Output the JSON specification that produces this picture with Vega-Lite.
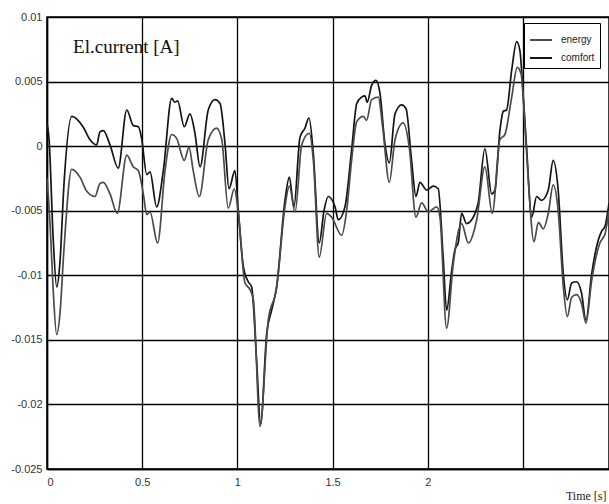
{
  "$schema": "https://vega.github.io/schema/vega-lite/v6.json",
  "width": 562,
  "height": 452,
  "autosize": {"type": "none"},
  "padding": {"left": 47, "top": 17, "right": 0, "bottom": 35},
  "background": "white",
  "config": {
    "view": {"stroke": "black", "strokeWidth": 1.5},
    "axis": {
      "labelFont": "Liberation Sans",
      "labelFontSize": 11,
      "labelColor": "#333333",
      "gridColor": "black",
      "gridOpacity": 1,
      "gridWidth": 1.3,
      "ticks": false,
      "domainColor": "black",
      "domainWidth": 1.5
    }
  },
  "datasets": {
    "curves": [
      {"t": 0.000, "v": 0.0018, "series": "comfort"},
      {"t": 0.011, "v": 0.0005, "series": "comfort"},
      {"t": 0.032, "v": -0.0070, "series": "comfort"},
      {"t": 0.051, "v": -0.0109, "series": "comfort"},
      {"t": 0.068, "v": -0.0090, "series": "comfort"},
      {"t": 0.089, "v": -0.0030, "series": "comfort"},
      {"t": 0.130, "v": 0.0023, "series": "comfort"},
      {"t": 0.189, "v": 0.0015, "series": "comfort"},
      {"t": 0.226, "v": 0.0005, "series": "comfort"},
      {"t": 0.261, "v": 0.0001, "series": "comfort"},
      {"t": 0.278, "v": 0.0011, "series": "comfort"},
      {"t": 0.296, "v": 0.0012, "series": "comfort"},
      {"t": 0.331, "v": 0.0001, "series": "comfort"},
      {"t": 0.374, "v": -0.0017, "series": "comfort"},
      {"t": 0.419, "v": 0.0028, "series": "comfort"},
      {"t": 0.453, "v": 0.0016, "series": "comfort"},
      {"t": 0.480, "v": 0.0015, "series": "comfort"},
      {"t": 0.497, "v": 0.0006, "series": "comfort"},
      {"t": 0.524, "v": -0.0022, "series": "comfort"},
      {"t": 0.541, "v": -0.0020, "series": "comfort"},
      {"t": 0.576, "v": -0.0047, "series": "comfort"},
      {"t": 0.611, "v": -0.0019, "series": "comfort"},
      {"t": 0.655, "v": 0.0037, "series": "comfort"},
      {"t": 0.672, "v": 0.0034, "series": "comfort"},
      {"t": 0.686, "v": 0.0035, "series": "comfort"},
      {"t": 0.721, "v": 0.0015, "series": "comfort"},
      {"t": 0.751, "v": 0.0025, "series": "comfort"},
      {"t": 0.777, "v": 0.0010, "series": "comfort"},
      {"t": 0.804, "v": -0.0016, "series": "comfort"},
      {"t": 0.847, "v": 0.0028, "series": "comfort"},
      {"t": 0.882, "v": 0.0036, "series": "comfort"},
      {"t": 0.909, "v": 0.0033, "series": "comfort"},
      {"t": 0.935, "v": 0.0002, "series": "comfort"},
      {"t": 0.956, "v": -0.0033, "series": "comfort"},
      {"t": 0.987, "v": -0.0019, "series": "comfort"},
      {"t": 1.005, "v": -0.0050, "series": "comfort"},
      {"t": 1.031, "v": -0.0093, "series": "comfort"},
      {"t": 1.057, "v": -0.0105, "series": "comfort"},
      {"t": 1.075, "v": -0.0109, "series": "comfort"},
      {"t": 1.101, "v": -0.0166, "series": "comfort"},
      {"t": 1.122, "v": -0.0215, "series": "comfort"},
      {"t": 1.154, "v": -0.0145, "series": "comfort"},
      {"t": 1.180, "v": -0.0127, "series": "comfort"},
      {"t": 1.206, "v": -0.0109, "series": "comfort"},
      {"t": 1.250, "v": -0.0042, "series": "comfort"},
      {"t": 1.273, "v": -0.0024, "series": "comfort"},
      {"t": 1.297, "v": -0.0047, "series": "comfort"},
      {"t": 1.329, "v": 0.0007, "series": "comfort"},
      {"t": 1.355, "v": 0.0014, "series": "comfort"},
      {"t": 1.376, "v": 0.0022, "series": "comfort"},
      {"t": 1.399, "v": -0.0006, "series": "comfort"},
      {"t": 1.430, "v": -0.0075, "series": "comfort"},
      {"t": 1.455, "v": -0.0050, "series": "comfort"},
      {"t": 1.477, "v": -0.0039, "series": "comfort"},
      {"t": 1.513, "v": -0.0047, "series": "comfort"},
      {"t": 1.530, "v": -0.0057, "series": "comfort"},
      {"t": 1.565, "v": -0.0047, "series": "comfort"},
      {"t": 1.600, "v": -0.0003, "series": "comfort"},
      {"t": 1.627, "v": 0.0033, "series": "comfort"},
      {"t": 1.653, "v": 0.0038, "series": "comfort"},
      {"t": 1.670, "v": 0.0039, "series": "comfort"},
      {"t": 1.682, "v": 0.0034, "series": "comfort"},
      {"t": 1.705, "v": 0.0047, "series": "comfort"},
      {"t": 1.728, "v": 0.0051, "series": "comfort"},
      {"t": 1.749, "v": 0.0041, "series": "comfort"},
      {"t": 1.775, "v": 0.0002, "series": "comfort"},
      {"t": 1.798, "v": -0.0013, "series": "comfort"},
      {"t": 1.828, "v": 0.0025, "series": "comfort"},
      {"t": 1.863, "v": 0.0032, "series": "comfort"},
      {"t": 1.886, "v": 0.0029, "series": "comfort"},
      {"t": 1.915, "v": -0.0011, "series": "comfort"},
      {"t": 1.938, "v": -0.0039, "series": "comfort"},
      {"t": 1.959, "v": -0.0028, "series": "comfort"},
      {"t": 1.994, "v": -0.0034, "series": "comfort"},
      {"t": 2.029, "v": -0.0031, "series": "comfort"},
      {"t": 2.055, "v": -0.0033, "series": "comfort"},
      {"t": 2.081, "v": -0.0086, "series": "comfort"},
      {"t": 2.099, "v": -0.0127, "series": "comfort"},
      {"t": 2.126, "v": -0.0096, "series": "comfort"},
      {"t": 2.143, "v": -0.0080, "series": "comfort"},
      {"t": 2.160, "v": -0.0075, "series": "comfort"},
      {"t": 2.178, "v": -0.0052, "series": "comfort"},
      {"t": 2.204, "v": -0.0060, "series": "comfort"},
      {"t": 2.239, "v": -0.0055, "series": "comfort"},
      {"t": 2.265, "v": -0.0044, "series": "comfort"},
      {"t": 2.300, "v": -0.0002, "series": "comfort"},
      {"t": 2.336, "v": -0.0037, "series": "comfort"},
      {"t": 2.353, "v": -0.0034, "series": "comfort"},
      {"t": 2.379, "v": 0.0012, "series": "comfort"},
      {"t": 2.397, "v": 0.0027, "series": "comfort"},
      {"t": 2.414, "v": 0.0028, "series": "comfort"},
      {"t": 2.441, "v": 0.0059, "series": "comfort"},
      {"t": 2.467, "v": 0.0081, "series": "comfort"},
      {"t": 2.484, "v": 0.0074, "series": "comfort"},
      {"t": 2.502, "v": 0.0038, "series": "comfort"},
      {"t": 2.519, "v": -0.0001, "series": "comfort"},
      {"t": 2.546, "v": -0.0055, "series": "comfort"},
      {"t": 2.572, "v": -0.0039, "series": "comfort"},
      {"t": 2.598, "v": -0.0042, "series": "comfort"},
      {"t": 2.633, "v": -0.0034, "series": "comfort"},
      {"t": 2.659, "v": -0.0011, "series": "comfort"},
      {"t": 2.685, "v": -0.0034, "series": "comfort"},
      {"t": 2.712, "v": -0.0099, "series": "comfort"},
      {"t": 2.733, "v": -0.0119, "series": "comfort"},
      {"t": 2.756, "v": -0.0106, "series": "comfort"},
      {"t": 2.782, "v": -0.0105, "series": "comfort"},
      {"t": 2.808, "v": -0.0114, "series": "comfort"},
      {"t": 2.831, "v": -0.0135, "series": "comfort"},
      {"t": 2.861, "v": -0.0099, "series": "comfort"},
      {"t": 2.895, "v": -0.0073, "series": "comfort"},
      {"t": 2.913, "v": -0.0066, "series": "comfort"},
      {"t": 2.931, "v": -0.0062, "series": "comfort"},
      {"t": 2.952, "v": -0.0044, "series": "comfort"},
      {"t": 0.000, "v": -0.0025, "series": "energy"},
      {"t": 0.016, "v": -0.0060, "series": "energy"},
      {"t": 0.032, "v": -0.0110, "series": "energy"},
      {"t": 0.051, "v": -0.0146, "series": "energy"},
      {"t": 0.068, "v": -0.0130, "series": "energy"},
      {"t": 0.089, "v": -0.0080, "series": "energy"},
      {"t": 0.130, "v": -0.0018, "series": "energy"},
      {"t": 0.173, "v": -0.0024, "series": "energy"},
      {"t": 0.209, "v": -0.0035, "series": "energy"},
      {"t": 0.252, "v": -0.0039, "series": "energy"},
      {"t": 0.278, "v": -0.0029, "series": "energy"},
      {"t": 0.296, "v": -0.0028, "series": "energy"},
      {"t": 0.331, "v": -0.0037, "series": "energy"},
      {"t": 0.369, "v": -0.0052, "series": "energy"},
      {"t": 0.419, "v": -0.0007, "series": "energy"},
      {"t": 0.453, "v": -0.0016, "series": "energy"},
      {"t": 0.480, "v": -0.0019, "series": "energy"},
      {"t": 0.506, "v": -0.0037, "series": "energy"},
      {"t": 0.524, "v": -0.0053, "series": "energy"},
      {"t": 0.541, "v": -0.0051, "series": "energy"},
      {"t": 0.581, "v": -0.0075, "series": "energy"},
      {"t": 0.620, "v": -0.0019, "series": "energy"},
      {"t": 0.655, "v": 0.0009, "series": "energy"},
      {"t": 0.681, "v": 0.0006, "series": "energy"},
      {"t": 0.721, "v": -0.0011, "series": "energy"},
      {"t": 0.746, "v": -0.0001, "series": "energy"},
      {"t": 0.768, "v": -0.0019, "series": "energy"},
      {"t": 0.800, "v": -0.0039, "series": "energy"},
      {"t": 0.847, "v": 0.0005, "series": "energy"},
      {"t": 0.891, "v": 0.0014, "series": "energy"},
      {"t": 0.918, "v": 0.0005, "series": "energy"},
      {"t": 0.952, "v": -0.0048, "series": "energy"},
      {"t": 0.984, "v": -0.0033, "series": "energy"},
      {"t": 1.005, "v": -0.0052, "series": "energy"},
      {"t": 1.040, "v": -0.0106, "series": "energy"},
      {"t": 1.066, "v": -0.0111, "series": "energy"},
      {"t": 1.084, "v": -0.0119, "series": "energy"},
      {"t": 1.119, "v": -0.0217, "series": "energy"},
      {"t": 1.162, "v": -0.0135, "series": "energy"},
      {"t": 1.206, "v": -0.0110, "series": "energy"},
      {"t": 1.250, "v": -0.0047, "series": "energy"},
      {"t": 1.273, "v": -0.0031, "series": "energy"},
      {"t": 1.303, "v": -0.0051, "series": "energy"},
      {"t": 1.338, "v": 0.0001, "series": "energy"},
      {"t": 1.378, "v": 0.0010, "series": "energy"},
      {"t": 1.399, "v": -0.0011, "series": "energy"},
      {"t": 1.430, "v": -0.0086, "series": "energy"},
      {"t": 1.469, "v": -0.0052, "series": "energy"},
      {"t": 1.495, "v": -0.0055, "series": "energy"},
      {"t": 1.548, "v": -0.0069, "series": "energy"},
      {"t": 1.574, "v": -0.0050, "series": "energy"},
      {"t": 1.600, "v": -0.0011, "series": "energy"},
      {"t": 1.627, "v": 0.0019, "series": "energy"},
      {"t": 1.661, "v": 0.0023, "series": "energy"},
      {"t": 1.679, "v": 0.0020, "series": "energy"},
      {"t": 1.705, "v": 0.0036, "series": "energy"},
      {"t": 1.740, "v": 0.0038, "series": "energy"},
      {"t": 1.763, "v": 0.0015, "series": "energy"},
      {"t": 1.798, "v": -0.0028, "series": "energy"},
      {"t": 1.828, "v": 0.0005, "series": "energy"},
      {"t": 1.871, "v": 0.0018, "series": "energy"},
      {"t": 1.903, "v": -0.0001, "series": "energy"},
      {"t": 1.938, "v": -0.0055, "series": "energy"},
      {"t": 1.968, "v": -0.0044, "series": "energy"},
      {"t": 2.003, "v": -0.0051, "series": "energy"},
      {"t": 2.047, "v": -0.0047, "series": "energy"},
      {"t": 2.064, "v": -0.0055, "series": "energy"},
      {"t": 2.099, "v": -0.0141, "series": "energy"},
      {"t": 2.134, "v": -0.0091, "series": "energy"},
      {"t": 2.178, "v": -0.0060, "series": "energy"},
      {"t": 2.213, "v": -0.0075, "series": "energy"},
      {"t": 2.257, "v": -0.0057, "series": "energy"},
      {"t": 2.300, "v": -0.0016, "series": "energy"},
      {"t": 2.339, "v": -0.0052, "series": "energy"},
      {"t": 2.379, "v": 0.0005, "series": "energy"},
      {"t": 2.405, "v": 0.0009, "series": "energy"},
      {"t": 2.441, "v": 0.0038, "series": "energy"},
      {"t": 2.470, "v": 0.0061, "series": "energy"},
      {"t": 2.490, "v": 0.0056, "series": "energy"},
      {"t": 2.507, "v": 0.0025, "series": "energy"},
      {"t": 2.528, "v": -0.0026, "series": "energy"},
      {"t": 2.558, "v": -0.0074, "series": "energy"},
      {"t": 2.581, "v": -0.0059, "series": "energy"},
      {"t": 2.607, "v": -0.0064, "series": "energy"},
      {"t": 2.633, "v": -0.0052, "series": "energy"},
      {"t": 2.659, "v": -0.0030, "series": "energy"},
      {"t": 2.685, "v": -0.0050, "series": "energy"},
      {"t": 2.712, "v": -0.0109, "series": "energy"},
      {"t": 2.733, "v": -0.0132, "series": "energy"},
      {"t": 2.756, "v": -0.0117, "series": "energy"},
      {"t": 2.782, "v": -0.0115, "series": "energy"},
      {"t": 2.808, "v": -0.0122, "series": "energy"},
      {"t": 2.831, "v": -0.0137, "series": "energy"},
      {"t": 2.861, "v": -0.0104, "series": "energy"},
      {"t": 2.904, "v": -0.0075, "series": "energy"},
      {"t": 2.931, "v": -0.0068, "series": "energy"},
      {"t": 2.952, "v": -0.0050, "series": "energy"}
    ],
    "note": [
      {"t": 0.137, "v": 0.0077, "label": "El.current [A]"}
    ]
  },
  "layer": [
    {
      "data": {"name": "curves"},
      "mark": {"type": "line", "interpolate": "monotone", "strokeWidth": 1.7, "clip": true},
      "encoding": {
        "x": {
          "field": "t",
          "type": "quantitative",
          "scale": {"domain": [0, 2.952], "nice": false, "zero": false},
          "axis": {
            "values": [0, 0.5, 1, 1.5, 2, 2.5],
            "labelExpr": "datum.value == 2.5 ? '' : '' + datum.value",
            "labelPadding": 7,
            "labelFontSize": 11,
            "title": "Time [s]",
            "titleFont": "Liberation Serif",
            "titleFontSize": 12,
            "titleFontWeight": "normal",
            "titleColor": "#222222",
            "titleAnchor": "end",
            "titleAlign": "right",
            "titleBaseline": "bottom",
            "titleY": 33,
            "titleX": 559
          }
        },
        "y": {
          "field": "v",
          "type": "quantitative",
          "scale": {"domain": [-0.025, 0.01], "nice": false, "zero": false},
          "axis": {
            "values": [-0.025, -0.02, -0.015, -0.01, -0.005, 0, 0.005, 0.01],
            "labelExpr": "'' + datum.value",
            "labelPadding": 5,
            "title": null
          }
        },
        "color": {
          "field": "series",
          "type": "nominal",
          "scale": {"domain": ["energy", "comfort"], "range": ["#4a4a4a", "#141414"]},
          "legend": {
            "title": null,
            "orient": "none",
            "legendX": 477,
            "legendY": 6,
            "symbolType": "stroke",
            "symbolSize": 484,
            "symbolStrokeWidth": 2,
            "labelOffset": 8,
            "labelFont": "Liberation Sans",
            "labelFontSize": 10,
            "labelColor": "#222222",
            "rowPadding": 1,
            "padding": 5,
            "strokeColor": "black",
            "fillColor": "white",
            "labelLimit": 100
          }
        }
      }
    },
    {
      "data": {"name": "note"},
      "mark": {"type": "text", "font": "Liberation Serif", "fontSize": 19, "align": "left", "baseline": "middle", "color": "#111111"},
      "encoding": {
        "x": {"field": "t", "type": "quantitative"},
        "y": {"field": "v", "type": "quantitative"},
        "text": {"field": "label"}
      }
    }
  ]
}
